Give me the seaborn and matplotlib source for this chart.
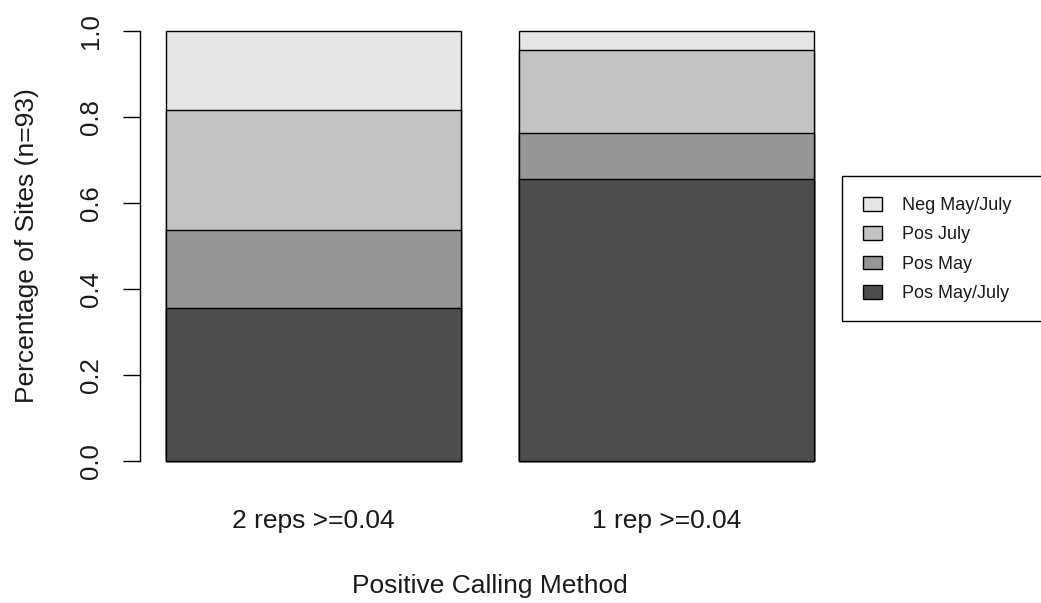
import matplotlib
matplotlib.use("Agg")
import matplotlib.pyplot as plt
from matplotlib.patches import Patch, Rectangle
import numpy as np
import pandas as pd
import seaborn as sns

# Site counts per calling method (n = 93 sites)
n_sites = 93
methods = ["2 reps >=0.04", "1 rep >=0.04"]
pos_may_july = [33, 61]
pos_may = [17, 10]
pos_july = [26, 18]
neg_may_july = [17, 4]

layer_names = ["Pos May/July", "Pos May", "Pos July", "Neg May/July"]
layer_counts = [pos_may_july, pos_may, pos_july, neg_may_july]
layer_colors = ["#4D4D4D", "#969696", "#C3C3C3", "#E6E6E6"]

sns.set_theme(style="white")
plt.rcParams["font.family"] = ["Liberation Sans", "DejaVu Sans"]

W, H = 1041, 603
fig = plt.figure(figsize=(W / 100, H / 100), dpi=100)
ax = fig.add_axes([140 / W, 1 - 478 / H, 700 / W, 464 / H])

# proportions and cumulative tops for stacking
props = np.array(layer_counts, dtype=float) / n_sites
tops = np.cumsum(props, axis=0)

bar_width = 1 / 1.2
# draw tallest stack first, then overlay lower segments
for i in range(len(layer_names) - 1, -1, -1):
    df = pd.DataFrame({"method": methods, "value": tops[i]})
    sns.barplot(data=df, x="method", y="value", order=methods,
                color=layer_colors[i], saturation=1, width=bar_width,
                edgecolor="black", linewidth=1.0, ax=ax, errorbar=None)

margin = 0.04 * 2.2 * bar_width
ax.set_xlim(-0.5 * bar_width - margin, 1 + 0.5 * bar_width + margin)
ax.set_ylim(-0.04, 1.04)

for s in ["top", "right", "bottom"]:
    ax.spines[s].set_visible(False)
ax.spines["left"].set_bounds(0, 1)
ax.spines["left"].set_color("black")
ax.spines["left"].set_linewidth(1.0)

ax.set_yticks([0, 0.2, 0.4, 0.6, 0.8, 1.0])
ax.set_yticklabels(["0.0", "0.2", "0.4", "0.6", "0.8", "1.0"],
                   rotation=90, va="center")
ax.tick_params(axis="y", left=True, direction="out", length=12.5, width=1.0,
               color="black", pad=14, labelsize=18.5, labelcolor="#1a1a1a")
ax.tick_params(axis="x", bottom=False, length=0, pad=22, labelsize=19,
               labelcolor="#1a1a1a")
ax.grid(False)

ax.set_xlabel("Positive Calling Method", fontsize=19, color="#1a1a1a",
              labelpad=30)
ax.set_ylabel("Percentage of Sites (n=93)", fontsize=19, color="#1a1a1a",
              labelpad=29)

# legend frame runs past the right edge of the figure
fig.patches.append(Rectangle((842 / W, 1 - 321 / H), 220 / W, 145 / H,
                             transform=fig.transFigure, facecolor="white",
                             edgecolor="black", linewidth=1.0))
handles = [Patch(facecolor=c, edgecolor="black", linewidth=1.0)
           for c in layer_colors[::-1]]
fig.legend(handles, layer_names[::-1], loc="upper left",
           bbox_to_anchor=(863 / W, 1 - 197 / H), frameon=False,
           fontsize=13, handlelength=1.05, handleheight=0.78,
           handletextpad=1.1, labelspacing=0.68, borderpad=0,
           borderaxespad=0, labelcolor="#1a1a1a")

fig.savefig("out.png", dpi=100)
